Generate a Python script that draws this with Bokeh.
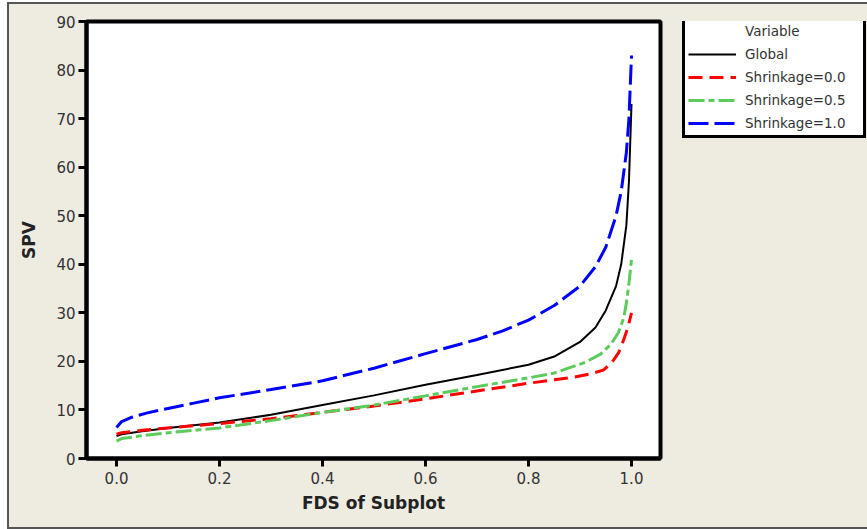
from bokeh.plotting import figure
from bokeh.models import Legend, LegendItem, Range1d, FixedTicker, Row
from bokeh.embed import file_html
from bokeh.resources import INLINE

# FDS curves: fraction of design space vs scaled prediction variance
fds_global = [0.0, 0.01, 0.05, 0.1, 0.2, 0.3, 0.4, 0.5, 0.6, 0.7, 0.8, 0.85,
              0.9, 0.93, 0.95, 0.97, 0.98, 0.99, 0.995, 1.0]
spv_global = [4.6, 5.0, 5.6, 6.3, 7.4, 9.0, 11.0, 13.0, 15.2, 17.2, 19.3, 21.0,
              24.0, 27.0, 30.5, 35.5, 40.0, 48.0, 57.0, 73.0]

fds_s00 = [0.0, 0.01, 0.05, 0.1, 0.2, 0.3, 0.4, 0.5, 0.6, 0.7, 0.8, 0.85,
           0.89, 0.92, 0.945, 0.96, 0.975, 0.985, 0.993, 1.0]
spv_s00 = [5.0, 5.3, 5.8, 6.3, 7.2, 8.2, 9.5, 10.8, 12.3, 13.9, 15.5, 16.2,
           16.8, 17.4, 18.2, 19.5, 21.8, 24.5, 27.0, 30.0]

fds_s05 = [0.0, 0.01, 0.05, 0.1, 0.2, 0.3, 0.4, 0.5, 0.6, 0.7, 0.8, 0.85,
           0.88, 0.91, 0.94, 0.96, 0.975, 0.985, 0.99, 0.995, 1.0]
spv_s05 = [3.6, 4.1, 4.7, 5.3, 6.3, 7.8, 9.5, 11.0, 12.9, 14.8, 16.6, 17.6,
           18.7, 19.8, 21.5, 23.5, 26.0, 29.0, 32.0, 36.0, 41.0]

fds_s10 = [0.0, 0.01, 0.03, 0.06, 0.1, 0.15, 0.2, 0.3, 0.4, 0.5, 0.6, 0.7,
           0.75, 0.8, 0.85, 0.9, 0.93, 0.95, 0.97, 0.98, 0.99, 0.995, 1.0]
spv_s10 = [6.4, 7.6, 8.5, 9.4, 10.3, 11.4, 12.5, 14.2, 16.0, 18.6, 21.6, 24.5,
           26.3, 28.5, 31.5, 35.5, 39.5, 43.5, 50.0, 55.0, 63.0, 70.0, 83.0]

series_names = ["Global", "Shrinkage=0.0", "Shrinkage=0.5", "Shrinkage=1.0"]
x_ticks = [0.0, 0.2, 0.4, 0.6, 0.8, 1.0]
y_ticks = [0, 10, 20, 30, 40, 50, 60, 70, 80, 90]

FONT = "DejaVu Sans"
BEIGE = "#EEEBE1"
NAN = float("nan")

# line style per series
styles = [
    dict(line_color="black", line_width=2),
    dict(line_color="#FF0000", line_width=3, line_dash="14 7"),
    dict(line_color="#5CCB5C", line_width=3, line_dash="16 4 6 4"),
    dict(line_color="#0000FF", line_width=3, line_dash="20 6"),
]
series = [(fds_global, spv_global), (fds_s00, spv_s00),
          (fds_s05, spv_s05), (fds_s10, spv_s10)]

# ---- main plot ----
p = figure(width=661, height=523, output_backend="svg", toolbar_location=None,
           x_range=Range1d(-0.0583, 1.0563), y_range=Range1d(0, 90),
           min_border_left=77, min_border_right=10,
           min_border_top=17, min_border_bottom=69)
p.background_fill_color = "white"
p.border_fill_color = BEIGE
p.outline_line_color = "black"
p.outline_line_width = 4
p.xgrid.visible = False
p.ygrid.visible = False

for ax in (p.xaxis[0], p.yaxis[0]):
    ax.axis_line_color = "black"
    ax.axis_line_width = 4
    ax.major_tick_in = 0
    ax.major_tick_out = 8
    ax.major_tick_line_width = 3
    ax.minor_tick_line_color = None
    ax.major_label_text_font = FONT
    ax.major_label_text_font_size = "15px"
    ax.major_label_text_color = "#333333"
    ax.axis_label_text_font = FONT
    ax.axis_label_text_font_size = "17px"
    ax.axis_label_text_font_style = "bold"
    ax.axis_label_text_color = "#222222"

p.xaxis.ticker = FixedTicker(ticks=x_ticks)
p.yaxis.ticker = FixedTicker(ticks=y_ticks)
p.xaxis.major_label_overrides = {t: f"{t:.1f}" for t in x_ticks}
p.xaxis.axis_label = "FDS of Subplot"
p.yaxis.axis_label = "SPV"
p.xaxis.major_label_standoff = 5
p.yaxis.major_label_standoff = 3
p.xaxis.axis_label_standoff = 6
p.yaxis.axis_label_standoff = 14

for (xs, ys), st in zip(series, styles):
    p.line(xs, ys, **st)

# ---- legend panel (its frame lines up with the main plot's frame) ----
q = figure(width=197, height=523, output_backend="svg", toolbar_location=None,
           x_range=Range1d(0, 1), y_range=Range1d(0, 1),
           min_border=0)
q.axis.visible = False
q.grid.visible = False
q.outline_line_color = None
q.background_fill_color = BEIGE
q.border_fill_color = BEIGE

# key lines for the legend only (no visible data in this panel)
keys = [q.line([NAN], [NAN], **st) for st in styles]
items = [LegendItem(label="Variable", renderers=[])]
items += [LegendItem(label=n, renderers=[r]) for n, r in zip(series_names, keys)]

legend = Legend(items=items, location=(12, 320))
legend.border_line_color = "black"
legend.border_line_alpha = 1
legend.border_line_width = 3
legend.background_fill_color = "white"
legend.background_fill_alpha = 1
legend.label_text_font = FONT
legend.label_text_font_size = "13.5px"
legend.label_text_color = "#333333"
legend.glyph_width = 48
legend.glyph_height = 18
legend.label_height = 18
legend.label_width = 115
legend.label_standoff = 9
legend.spacing = 5
legend.padding = 3
legend.margin = 0
q.add_layout(legend, "center")

layout = Row(children=[p, q], spacing=0,
             styles={"margin-left": "7px", "margin-top": "2px",
                     "background-color": BEIGE,
                     "border-left": "2px solid #555555",
                     "border-top": "2px solid #555555",
                     "border-bottom": "2px solid #555555"})

open("out.html", "w").write(file_html(layout, INLINE))
